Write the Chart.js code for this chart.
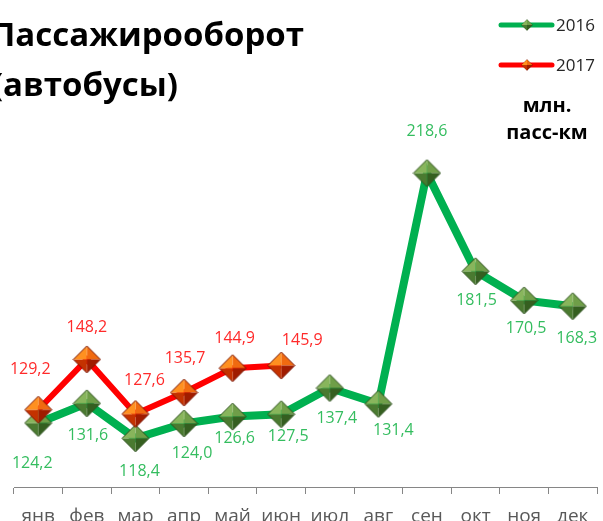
<!DOCTYPE html>
<html>
<head>
<meta charset="utf-8">
<script src="https://cdn.jsdelivr.net/npm/chart.js@4"></script>
<style>
  html, body { margin: 0; padding: 0; background: #fff; }
  #wrap { width: 603px; height: 521px; }
</style>
</head>
<body>
<div id="wrap"><canvas id="lineChart" width="603" height="521"></canvas></div>
<script>
const months = ['янв', 'фев', 'мар', 'апр', 'май', 'июн', 'июл', 'авг', 'сен', 'окт', 'ноя', 'дек'];
const values2016 = [124.2, 131.6, 118.4, 124.0, 126.6, 127.5, 137.4, 131.4, 218.6, 181.5, 170.5, 168.3];
const values2017 = [129.2, 148.2, 127.6, 135.7, 144.9, 145.9];
const seriesNames = ['2016', '2017'];
const titleLines = ['Пассажирооборот', '(автобусы)'];
const unitLines = ['млн.', 'пасс-км'];

// label offsets from the marker, px
const offsets2016 = [[-6, 40], [1, 32], [4, 33], [8, 30], [2, 22], [7, 22], [7, 30], [15, 27], [0, -42], [1, 29], [2, 28], [4, 32]];
const offsets2017 = [[-8, -40], [0, -32], [9, -34], [1, -34], [2, -30], [21, -25]];

// pyramid-like diamond marker
function makeMarker(size, faces, edge) {
    const c = document.createElement('canvas');
    c.width = size; c.height = size;
    const ctx = c.getContext('2d');
    const m = size / 2, r = size / 2 - 1;
    const pts = [[m, m - r], [m + r, m], [m, m + r], [m - r, m]];
    for (let i = 0; i < 4; i++) {
        const a = pts[i], b = pts[(i + 1) % 4];
        ctx.beginPath();
        ctx.moveTo(m, m);
        ctx.lineTo(a[0], a[1]);
        ctx.lineTo(b[0], b[1]);
        ctx.closePath();
        ctx.fillStyle = faces[i];
        ctx.fill();
    }
    ctx.beginPath();
    ctx.moveTo(pts[0][0], pts[0][1]);
    for (let i = 1; i < 4; i++) ctx.lineTo(pts[i][0], pts[i][1]);
    ctx.closePath();
    ctx.strokeStyle = edge;
    ctx.lineWidth = 1;
    ctx.stroke();
    return c;
}

// faces: upper-right, lower-right, lower-left, upper-left
const greenMarker = makeMarker(29, ['#6f9e48', '#355f20', '#4a7a30', '#88b55c'], '#2b4f1a');
const redMarker = makeMarker(29, ['#f06a10', '#a01c00', '#c43200', '#ff9020'], '#7a1400');

const labelPlugin = {
    id: 'pointLabels',
    afterDatasetsDraw(chart) {
        const ctx = chart.ctx;
        ctx.save();
        ctx.font = '16px "Open Sans"';
        ctx.textAlign = 'center';
        ctx.textBaseline = 'middle';
        chart.data.datasets.forEach((ds, di) => {
            const meta = chart.getDatasetMeta(di);
            meta.data.forEach((pt, i) => {
                const off = ds.labelOffsets[i];
                ctx.fillStyle = ds.labelColor;
                ctx.fillText(ds.data[i].toFixed(1).replace('.', ','), pt.x + off[0], pt.y + off[1]);
            });
        });
        ctx.restore();
    }
};

const textPlugin = {
    id: 'extraText',
    afterDraw(chart) {
        const ctx = chart.ctx;
        ctx.save();
        // title, cut on the left like the source
        ctx.fillStyle = '#000';
        ctx.font = 'bold 33px "Open Sans"';
        ctx.textAlign = 'right';
        ctx.textBaseline = 'alphabetic';
        ctx.fillText(titleLines[0], 304, 46);
        ctx.fillText(titleLines[1], 178, 96);

        // legend
        const rows = [[25, '#00b050', greenMarker], [65, '#ff0000', redMarker]];
        ctx.font = '17px "Open Sans"';
        ctx.textAlign = 'left';
        ctx.textBaseline = 'middle';
        rows.forEach((row, i) => {
            ctx.strokeStyle = row[1];
            ctx.lineWidth = 5;
            ctx.lineCap = 'round';
            ctx.beginPath();
            ctx.moveTo(501, row[0]);
            ctx.lineTo(552, row[0]);
            ctx.stroke();
            ctx.drawImage(row[2], 521, row[0] - 6, 12, 12);
            ctx.fillStyle = '#262626';
            ctx.fillText(seriesNames[i], 556, row[0] + 1);
        });

        // units
        ctx.fillStyle = '#000';
        ctx.font = 'bold 20px "Open Sans"';
        ctx.textAlign = 'center';
        ctx.textBaseline = 'alphabetic';
        ctx.fillText(unitLines[0], 547, 112);
        ctx.fillText(unitLines[1], 547, 139);
        ctx.restore();
    }
};

const chartCtx = document.getElementById('lineChart').getContext('2d');
const lineChart = new Chart(chartCtx, {
    type: 'line',
    data: {
        labels: months,
        datasets: [
            {
                label: seriesNames[0], data: values2016, order: 2,
                borderColor: '#00b050', borderWidth: 8, tension: 0,
                pointStyle: greenMarker, pointRadius: 14, pointHoverRadius: 14,
                labelColor: '#34bd5f', labelOffsets: offsets2016
            },
            {
                label: seriesNames[1], data: values2017, order: 1,
                borderColor: '#ff0000', borderWidth: 6, tension: 0,
                pointStyle: redMarker, pointRadius: 14, pointHoverRadius: 14,
                labelColor: '#ff2a2a', labelOffsets: offsets2017
            }
        ]
    },
    options: {
        responsive: false,
        animation: false,
        layout: { autoPadding: false, padding: { left: 14, right: 6, top: 90, bottom: 0 } },
        plugins: { legend: { display: false }, title: { display: false }, tooltip: { enabled: false } },
        scales: {
            x: {
                offset: true,
                afterFit(scale) { scale.height = 34; },
                grid: { offset: true, drawOnChartArea: false, drawTicks: true, tickLength: 7, color: '#868686' },
                border: { display: true, color: '#868686', width: 1 },
                ticks: { color: '#595959', font: { family: 'Open Sans', size: 19 }, padding: 11 }
            },
            y: { display: false, min: 100, max: 250 }
        }
    },
    plugins: [labelPlugin, textPlugin]
});
</script>
</body>
</html>
